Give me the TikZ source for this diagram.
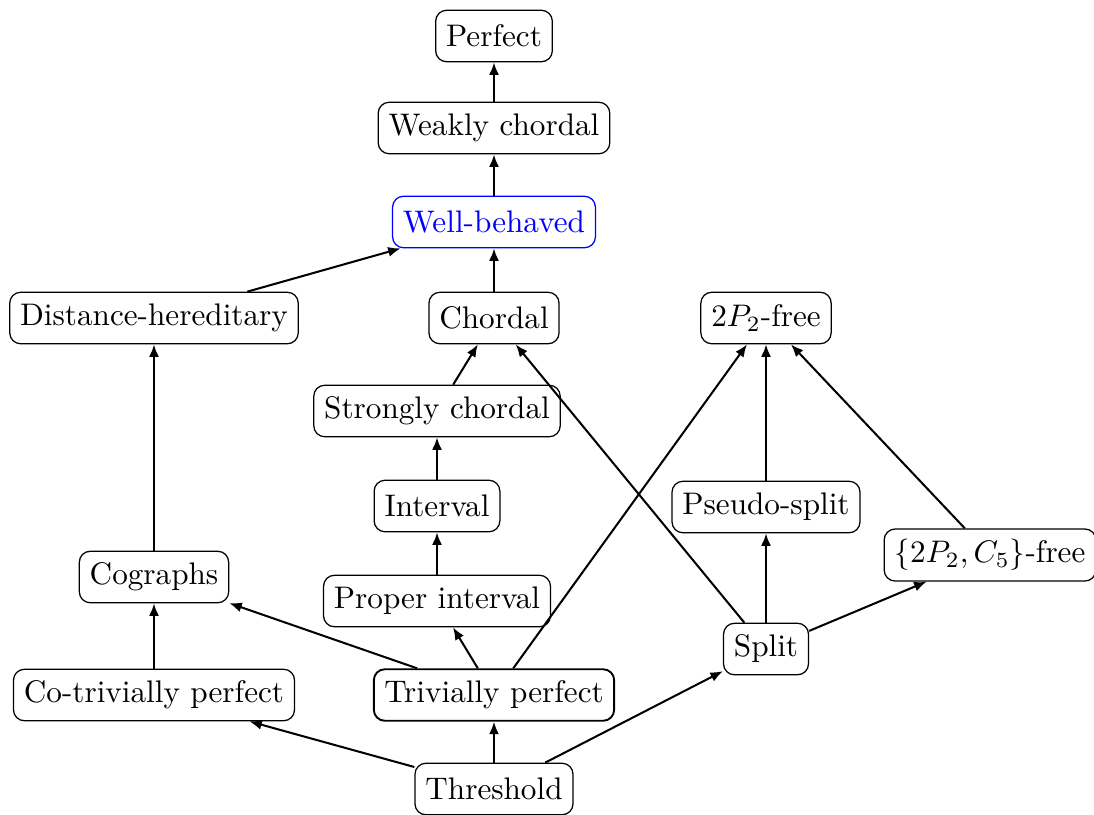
\documentclass[tikz,border=0pt]{standalone}
\usetikzlibrary{arrows.meta}
\begin{document}
\begin{tikzpicture}[x=0.3205pt,y=-0.3205pt,
  box/.style={draw,rounded corners=3.5pt,minimum height=16.5pt,inner sep=3.333pt,line width=0.4pt},
  edge/.style={-{Latex[length=4pt,width=3.2pt]},line width=0.65pt}]
\useasboundingbox (0,0) rectangle (1094,814);
\node[box] (perf) at (494,36) {Perfect};
\node[box] (wc) at (494,128) {Weakly chordal};
\node[box,draw=blue,text=blue] (wb) at (494,222) {Well-behaved};
\node[box] (dh) at (154,318) {Distance-hereditary};
\node[box] (ch) at (494,318) {Chordal};
\node[box] (tp2) at (766,318) {$2P_2$-free};
\node[box] (sc) at (437,411) {Strongly chordal};
\node[box] (int) at (437,506) {Interval};
\node[box] (ps) at (766,507) {Pseudo-split};
\node[box] (cog) at (154,577) {Cographs};
\node[box] (c5) at (990,555) {$\{2P_2, C_5\}$-free};
\node[box] (pi) at (437,601) {Proper interval};
\node[box] (spl) at (766,649) {Split};
\node[box] (ctp) at (154,695) {Co-trivially perfect};
\node[box,line width=0.6pt] (tp) at (494,695) {Trivially perfect};
\node[box] (thr) at (494,789) {Threshold};
\draw[edge] (wc) -- (perf);
\draw[edge] (wb) -- (wc);
\draw[edge] (dh) -- (wb);
\draw[edge] (ch) -- (wb);
\draw[edge] (sc) -- (ch);
\draw[edge] (int) -- (sc);
\draw[edge] (pi) -- (int);
\draw[edge] (tp) -- (pi);
\draw[edge] (tp) -- (cog);
\draw[edge] (tp) -- (tp2);
\draw[edge] (thr) -- (ctp);
\draw[edge] (thr) -- (tp);
\draw[edge] (thr) -- (spl);
\draw[edge] (spl) -- (ch);
\draw[edge] (spl) -- (ps);
\draw[edge] (spl) -- (c5);
\draw[edge] (ps) -- (tp2);
\draw[edge] (c5) -- (tp2);
\draw[edge] (cog) -- (dh);
\draw[edge] (ctp) -- (cog);
\end{tikzpicture}
\end{document}
